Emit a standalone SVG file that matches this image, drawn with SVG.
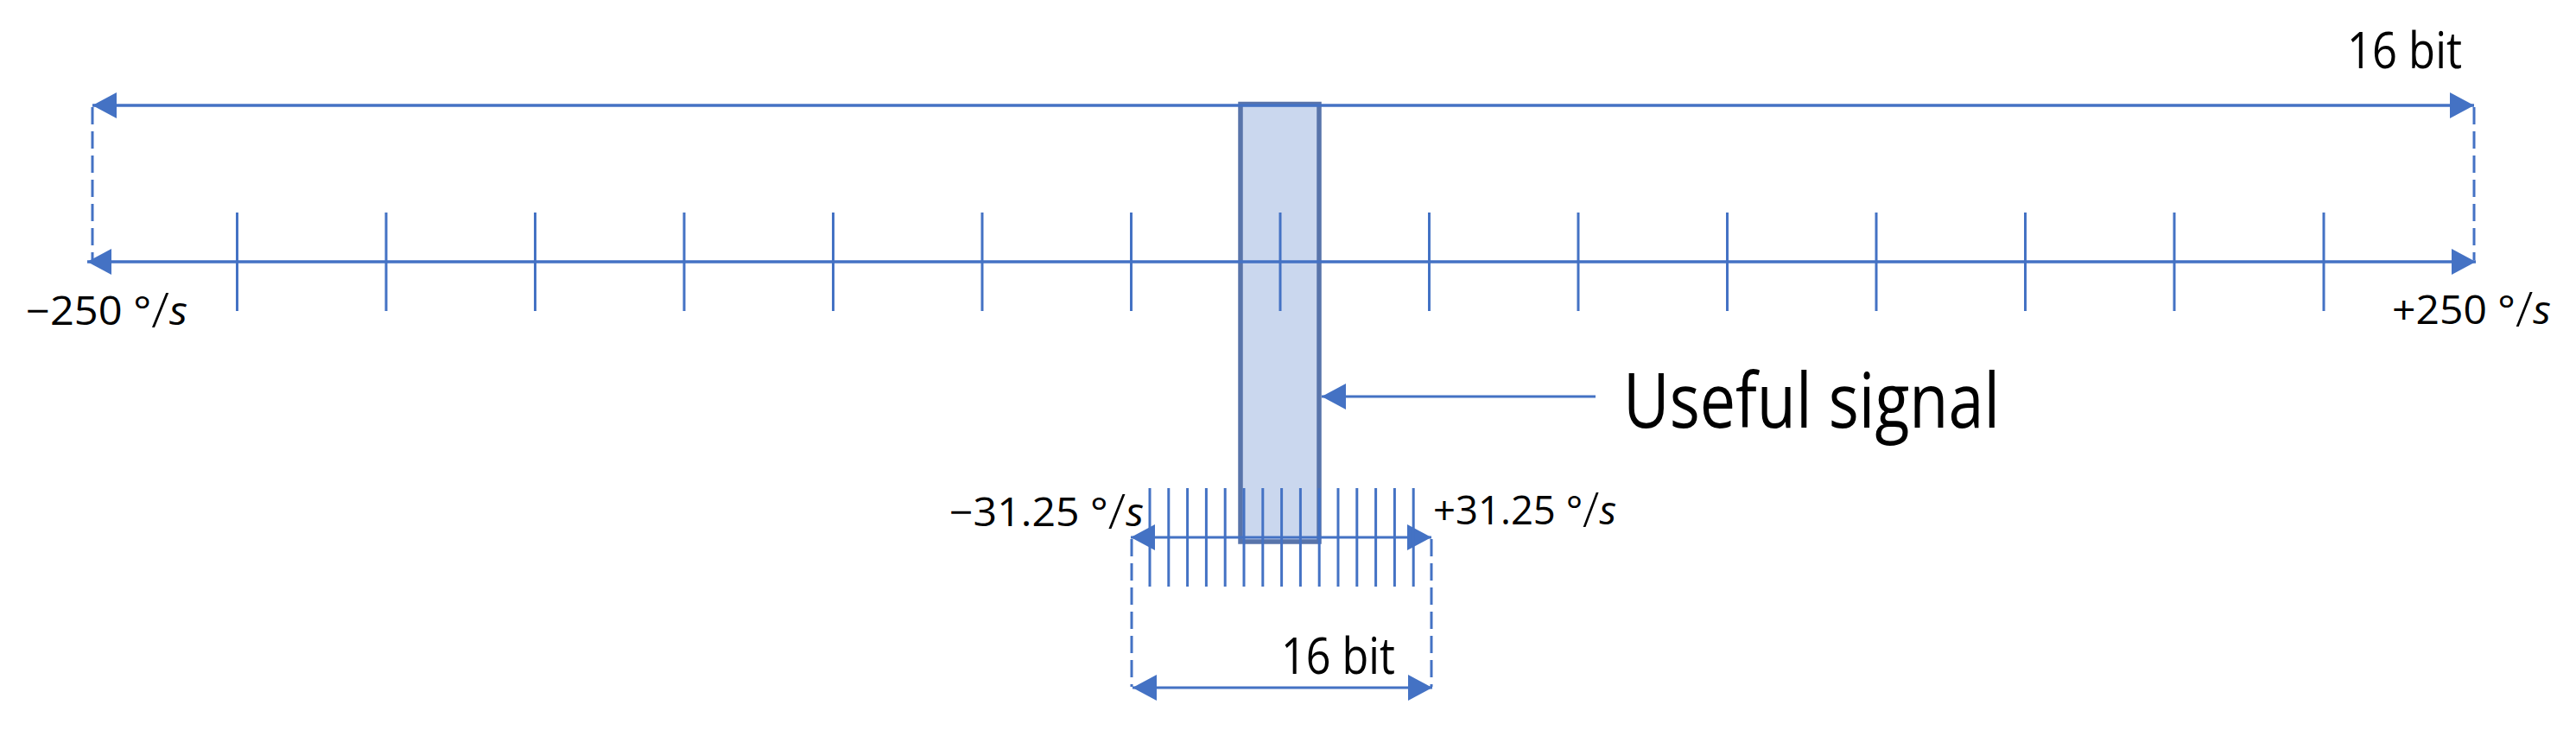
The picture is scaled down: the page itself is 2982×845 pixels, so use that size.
<svg xmlns="http://www.w3.org/2000/svg" width="2982" height="845" viewBox="0 0 2982 845">
<style>
.ln{stroke:#4472C4;stroke-width:3.5;fill:none}
.tk{stroke:#4472C4;stroke-width:3;fill:none}
.ds{stroke:#4472C4;stroke-width:3;fill:none;stroke-dasharray:20 8}
.lbl{font-family:"Open Sans","Liberation Sans",sans-serif;fill:#000}
.math{font-family:"Open Sans","Liberation Sans",sans-serif;fill:#000;font-size:45px}
.it{font-style:italic}
.sl{font-size:56px;font-weight:300}
</style>
<defs>
<marker id="ah" markerUnits="userSpaceOnUse" markerWidth="30" markerHeight="30" refX="28" refY="15" orient="auto-start-reverse" viewBox="0 0 30 30">
<path d="M0,0 L28,15 L0,30 Z" fill="#4472C4"/>
</marker>
</defs>
<rect width="2982" height="845" fill="#fff"/>
<g id="useful-signal-box">
<rect x="1436" y="120.5" width="91" height="506.5" fill="#CAD7EE" stroke="#5874AA" stroke-width="5.5"/>
</g>
<g id="connectors">
<line class="ln" x1="107" y1="122" x2="2864" y2="122" marker-start="url(#ah)" marker-end="url(#ah)"/>
<line class="ds" x1="107" y1="124" x2="107" y2="301"/>
<line class="ds" x1="2864" y1="124" x2="2864" y2="301"/>
<line class="ln" x1="101" y1="303" x2="2866" y2="303" marker-start="url(#ah)" marker-end="url(#ah)"/>
<g id="big-ticks">
<line class="tk" x1="274.5" y1="246" x2="274.5" y2="360"/>
<line class="tk" x1="447" y1="246" x2="447" y2="360"/>
<line class="tk" x1="619.5" y1="246" x2="619.5" y2="360"/>
<line class="tk" x1="792" y1="246" x2="792" y2="360"/>
<line class="tk" x1="964.5" y1="246" x2="964.5" y2="360"/>
<line class="tk" x1="1137" y1="246" x2="1137" y2="360"/>
<line class="tk" x1="1309.5" y1="246" x2="1309.5" y2="360"/>
<line class="tk" x1="1482" y1="246" x2="1482" y2="360"/>
<line class="tk" x1="1654.5" y1="246" x2="1654.5" y2="360"/>
<line class="tk" x1="1827" y1="246" x2="1827" y2="360"/>
<line class="tk" x1="1999.5" y1="246" x2="1999.5" y2="360"/>
<line class="tk" x1="2172" y1="246" x2="2172" y2="360"/>
<line class="tk" x1="2344.5" y1="246" x2="2344.5" y2="360"/>
<line class="tk" x1="2517" y1="246" x2="2517" y2="360"/>
<line class="tk" x1="2690" y1="246" x2="2690" y2="360"/>
</g>
<line class="tk" x1="1847" y1="459" x2="1530" y2="459" marker-end="url(#ah)"/>
<line class="tk" x1="1309" y1="622" x2="1657" y2="622" marker-start="url(#ah)" marker-end="url(#ah)"/>
<g id="small-ticks">
<line class="tk" x1="1331" y1="565" x2="1331" y2="679"/>
<line class="tk" x1="1352.8" y1="565" x2="1352.8" y2="679"/>
<line class="tk" x1="1374.6" y1="565" x2="1374.6" y2="679"/>
<line class="tk" x1="1396.4" y1="565" x2="1396.4" y2="679"/>
<line class="tk" x1="1418.2" y1="565" x2="1418.2" y2="679"/>
<line class="tk" x1="1440" y1="565" x2="1440" y2="679"/>
<line class="tk" x1="1461.8" y1="565" x2="1461.8" y2="679"/>
<line class="tk" x1="1483.6" y1="565" x2="1483.6" y2="679"/>
<line class="tk" x1="1505.4" y1="565" x2="1505.4" y2="679"/>
<line class="tk" x1="1527.2" y1="565" x2="1527.2" y2="679"/>
<line class="tk" x1="1549" y1="565" x2="1549" y2="679"/>
<line class="tk" x1="1570.8" y1="565" x2="1570.8" y2="679"/>
<line class="tk" x1="1592.6" y1="565" x2="1592.6" y2="679"/>
<line class="tk" x1="1614.4" y1="565" x2="1614.4" y2="679"/>
<line class="tk" x1="1636.2" y1="565" x2="1636.2" y2="679"/>
</g>
<line class="ds" x1="1310" y1="624" x2="1310" y2="795"/>
<line class="ds" x1="1657" y1="624" x2="1657" y2="795"/>
<line class="tk" x1="1311" y1="796" x2="1658" y2="796" marker-start="url(#ah)" marker-end="url(#ah)"/>
</g>
<g id="labels">
<text class="lbl" x="2717" y="79" font-size="58" textLength="133" lengthAdjust="spacingAndGlyphs">16 bit</text>
<text class="lbl" x="1483" y="780" font-size="58" textLength="132" lengthAdjust="spacingAndGlyphs">16 bit</text>
<text class="lbl" x="1879" y="495" font-size="87" textLength="436" lengthAdjust="spacingAndGlyphs">Useful signal</text>
<text class="math" x="30" y="376" textLength="187" lengthAdjust="spacingAndGlyphs">−250 °<tspan class="sl" dy="3">/</tspan><tspan class="it" dy="-3">s</tspan></text>
<text class="math" x="2769" y="375" textLength="184" lengthAdjust="spacingAndGlyphs">+250 °<tspan class="sl" dy="3">/</tspan><tspan class="it" dy="-3">s</tspan></text>
<text class="math" x="1099" y="609" textLength="225" lengthAdjust="spacingAndGlyphs">−31.25 °<tspan class="sl" dy="3">/</tspan><tspan class="it" dy="-3">s</tspan></text>
<text class="math" x="1659" y="607" textLength="212" lengthAdjust="spacingAndGlyphs">+31.25 °<tspan class="sl" dy="3">/</tspan><tspan class="it" dy="-3">s</tspan></text>
</g>
</svg>
